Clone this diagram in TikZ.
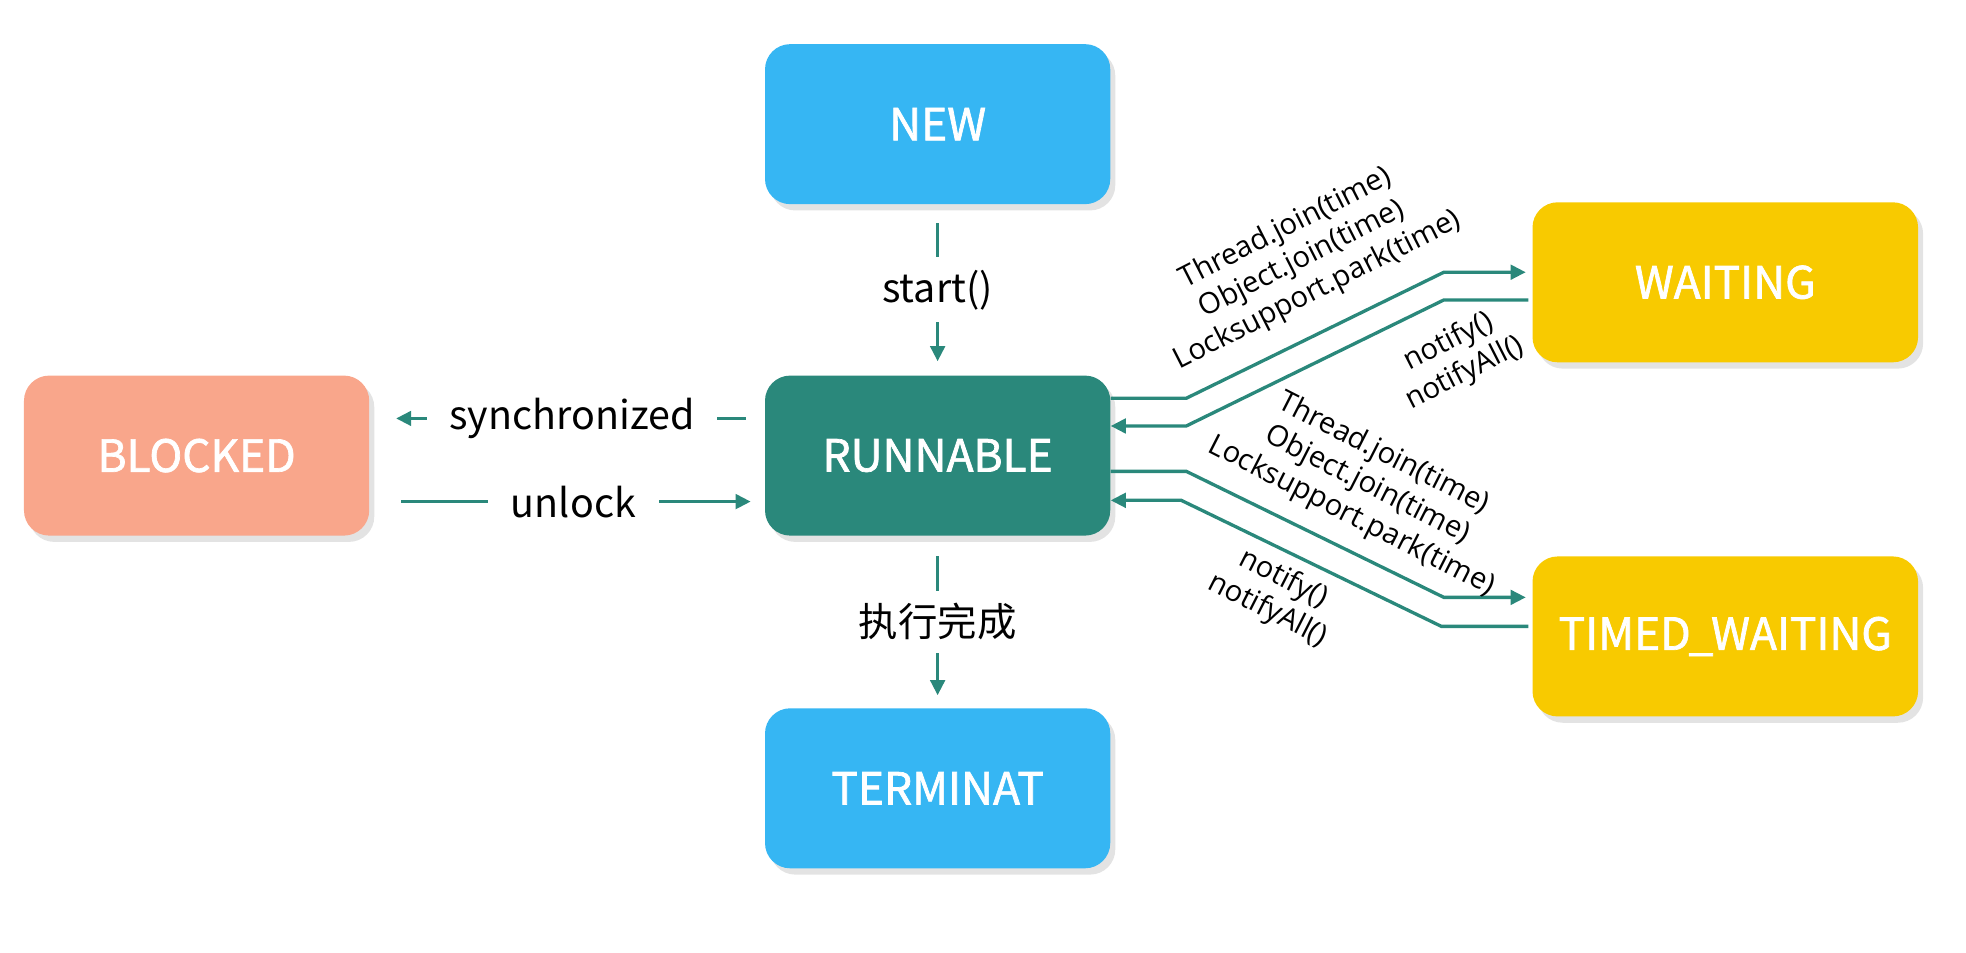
\documentclass[tikz,border=0pt]{standalone}
\usepackage{fontspec}
\setmainfont{Noto Sans CJK SC}
\newfontfamily\statefont{Noto Sans CJK SC}[FakeBold=1.6]
\newfontfamily\callfont{Open Sans}
\usetikzlibrary{arrows.meta,shadows}

\definecolor{newcol}{HTML}{36B6F3}
\definecolor{runcol}{HTML}{2A887B}
\definecolor{blkcol}{HTML}{F9A68B}
\definecolor{waitcol}{HTML}{F8CA00}

\tikzset{
  state/.style={rounded corners=0.4cm,minimum width=5.48cm,minimum height=2.54cm,
    text=white,font=\statefont\fontsize{20}{24}\selectfont,
    drop shadow={shadow xshift=0.08cm,shadow yshift=-0.1cm,opacity=0.22}},
  arr/.style={draw=runcol,line width=1.5pt,-{Triangle[length=0.24cm,width=0.23cm]}},
  lbl/.style={fill=white,inner xsep=0.36cm,inner ysep=0.2cm,font=\fontsize{17.8}{21}\selectfont},
  calls/.style={align=center,font=\callfont\fontsize{13.2}{15.8}\selectfont}
}

\begin{document}
\begin{tikzpicture}
        [x=0.02cm,y=-0.02cm]
        \useasboundingbox (0,0) rectangle (1560,755.6);

        \node[state,fill=newcol] (NEW) at (744,98.5) {NEW};
        \node[state,fill=runcol] (RUN) at (744,361.5) {RUNNABLE};
        \node[state,fill=newcol] (TERM) at (744,625.5) {TERMINAT};
        \node[state,fill=blkcol] (BLK) at (156,361.5) {BLOCKED};
        \node[state,fill=waitcol,minimum width=6.12cm] (WAIT) at (1369,224) {WAITING};
        \node[state,fill=waitcol,minimum width=6.12cm] (TIMED) at (1369,505) {TIMED\kern-1pt\_\kern-1pt WAITING};

        \draw[arr,shorten <=0.3cm,shorten >=0.22cm] (NEW) -- (RUN) node[lbl,midway] {start()};
        \draw[arr,shorten <=0.32cm,shorten >=0.2cm] (RUN) -- (TERM) node[lbl,midway] {执行完成};
        \draw[arr,shorten <=0.3cm,shorten >=0.42cm] ([yshift=0.59cm]RUN.west) -- ([yshift=0.59cm]BLK.east)
          node[lbl,midway,xshift=0.08cm] {synchronized};
        \draw[arr,shorten <=0.5cm,shorten >=0.22cm] ([yshift=-0.73cm]BLK.east) -- ([yshift=-0.73cm]RUN.west)
          node[lbl,midway,xshift=0.1cm] {unlock};

        \draw[arr,shorten >=0.1cm] ([yshift=0.91cm]RUN.east) -- ++(60,0)
          -- ([xshift=-1.4cm,yshift=0.16cm]WAIT.west) -- ([yshift=0.16cm]WAIT.west);
        \draw[arr,shorten <=0.06cm] ([yshift=-0.28cm]WAIT.west) -- ++(-70,0)
          -- ([xshift=1.2cm,yshift=0.47cm]RUN.east) -- ([yshift=0.47cm]RUN.east);
        \draw[arr,shorten >=0.1cm] ([yshift=-0.25cm]RUN.east) -- ++(60,0)
          -- ([xshift=-1.4cm,yshift=0.62cm]TIMED.west) -- ([yshift=0.62cm]TIMED.west);
        \draw[arr,shorten <=0.06cm] ([yshift=0.16cm]TIMED.west) -- ++(-72,0)
          -- ([xshift=1.12cm,yshift=-0.71cm]RUN.east) -- ([yshift=-0.71cm]RUN.east);

        \node[calls,rotate=27] (toW) at (1033,206) {Thread.join(time)\\Object.join(time)\\Locksupport.park(time)};
        \node[calls,rotate=27] (fromW) at (1156,284) {notify()\\notifyAll()};
        \node[calls,rotate=-27] (toT) at (1085,385) {Thread.join(time)\\Object.join(time)\\Locksupport.park(time)};
        \node[calls,rotate=-27] (fromT) at (1012,472) {notify()\\notifyAll()};
      \end{tikzpicture}
\end{document}
